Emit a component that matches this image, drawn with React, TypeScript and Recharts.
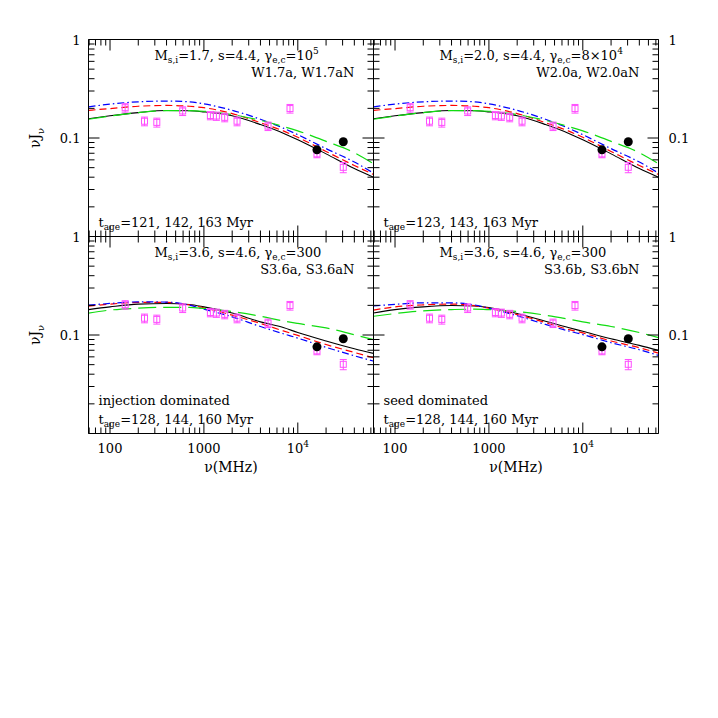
import { ComposedChart, Line, Scatter, XAxis, YAxis, ErrorBar } from "recharts";

// model grid (MHz)
const NU = [59, 100, 200, 400, 700, 1000, 2000, 4000, 7000, 10000, 20000, 40000, 64000];

// W1.7a / W2.0a (top panels look the same)
const W_SOLID = [0.157, 0.168, 0.181, 0.19, 0.189, 0.184, 0.168, 0.137, 0.112, 0.096, 0.069, 0.049, 0.04];
const W_DASH = [0.191, 0.199, 0.21, 0.214, 0.21, 0.203, 0.177, 0.143, 0.118, 0.1016, 0.073, 0.0526, 0.0426];
const W_DOTDASH = [0.207, 0.221, 0.233, 0.237, 0.233, 0.222, 0.191, 0.155, 0.126, 0.108, 0.078, 0.057, 0.044];
const W_LONGDASH = [0.155, 0.167, 0.181, 0.19, 0.19, 0.187, 0.173, 0.151, 0.131, 0.118, 0.0925, 0.0709, 0.0547];

// S3.6a (injection dominated)
const SA_SOLID = [0.181, 0.193, 0.206, 0.209, 0.204, 0.193, 0.167, 0.136, 0.119, 0.106, 0.087, 0.0725, 0.065];
const SA_DASH = [0.196, 0.206, 0.214, 0.214, 0.202, 0.189, 0.159, 0.131, 0.11, 0.099, 0.08, 0.0665, 0.0587];
const SA_DOTDASH = [0.201, 0.209, 0.217, 0.216, 0.201, 0.183, 0.153, 0.122, 0.103, 0.093, 0.075, 0.0615, 0.0543];
const SA_LONGDASH = [0.167, 0.179, 0.187, 0.191, 0.191, 0.186, 0.173, 0.155, 0.139, 0.131, 0.118, 0.1007, 0.0896];

// S3.6b (seed dominated)
const SB_SOLID = [0.167, 0.181, 0.193, 0.199, 0.197, 0.19, 0.165, 0.138, 0.119, 0.109, 0.0917, 0.0785, 0.0698];
const SB_DASH = [0.179, 0.193, 0.202, 0.206, 0.199, 0.187, 0.161, 0.134, 0.114, 0.105, 0.087, 0.0743, 0.0655];
const SB_DOTDASH = [0.197, 0.205, 0.212, 0.212, 0.202, 0.187, 0.157, 0.128, 0.11, 0.101, 0.0835, 0.0709, 0.0621];
const SB_LONGDASH = [0.155, 0.165, 0.176, 0.181, 0.183, 0.181, 0.173, 0.159, 0.145, 0.136, 0.122, 0.106, 0.094];

// observed halo spectrum
const OBS_NU = [145, 233, 315, 594, 1172, 1358, 1665, 2254, 4820, 8260, 16000, 30500];
const OBS_J = [0.203, 0.148, 0.144, 0.188, 0.169, 0.167, 0.162, 0.148, 0.132, 0.199, 0.069, 0.0504];
const OBS_ERR = [0.02, 0.015, 0.015, 0.019, 0.016, 0.016, 0.016, 0.015, 0.013, 0.02, 0.006, 0.006];

// SZ-corrected points
const SZ_NU = [16000, 30500];
const SZ_J = [0.0758, 0.0915];

const X_TICKS = [60, 70, 80, 90, 100, 200, 300, 400, 500, 600, 700, 800, 900, 1000, 2000, 3000, 4000, 5000, 6000, 7000, 8000, 9000, 10000, 20000, 30000, 40000, 50000, 60000];
const Y_TICKS = [0.01, 0.02, 0.03, 0.04, 0.05, 0.06, 0.07, 0.08, 0.09, 0.1, 0.2, 0.3, 0.4, 0.5, 0.6, 0.7, 0.8, 0.9, 1];

const FONT = "'DejaVu Serif', serif";
const MAG = "#ff4cff";
const TICK = "#000000";
const PW = 285;
const PH = 197;
const SIZE = 718;
const AX = 1; // thickness reserved for each axis

const STYLES = [
  { key: "solid", stroke: "#000000", dash: undefined, w: 1.1 },
  { key: "dash", stroke: "#ff0000", dash: "7 4", w: 1.2 },
  { key: "dotdash", stroke: "#0000ff", dash: "7 3 1.5 3", w: 1.2 },
  { key: "longdash", stroke: "#11dd11", dash: "18 7", w: 1.2 },
];

const isDecade = (v: number) => {
  const l = Math.log10(v);
  return Math.abs(l - Math.round(l)) < 1e-6;
};

function XTick(props: any) {
  const x = Number(props.x);
  const y = Number(props.y);
  const { payload, side, labels } = props;
  const v = payload.value;
  const major = isDecade(v);
  const len = major ? 11 : 6;
  const dir = side === "bottom" ? -1 : 1;
  return (
    <g>
      <line x1={x} x2={x} y1={y} y2={y + dir * len} stroke={TICK} strokeWidth={1} />
      {labels && major && (
        <text x={x} y={y + 19} textAnchor="middle" fontFamily={FONT} fontSize={13} fill="#000">
          {v >= 10000 ? (
            <>
              10<tspan fontSize={9} dy={-6}>{Math.round(Math.log10(v))}</tspan>
            </>
          ) : (
            String(v)
          )}
        </text>
      )}
    </g>
  );
}

function YTick(props: any) {
  const x = Number(props.x);
  const y = Number(props.y);
  const { payload, side, labels } = props;
  const v = payload.value;
  const major = isDecade(v);
  const len = major ? 11 : 6;
  const dir = side === "left" ? 1 : -1;
  const show = labels && (Math.abs(v - 1) < 1e-9 || Math.abs(v - 0.1) < 1e-9);
  return (
    <g>
      <line x1={x} x2={x + dir * len} y1={y} y2={y} stroke={TICK} strokeWidth={1} />
      {show && (
        <text
          x={side === "left" ? x - 8 : x + 10}
          y={y + 5}
          textAnchor={side === "left" ? "end" : "start"}
          fontFamily={FONT}
          fontSize={13}
          fill="#000"
        >
          {v === 1 ? "1" : "0.1"}
        </text>
      )}
    </g>
  );
}

const Square = (p: any) => (
  <rect x={p.cx - 3} y={p.cy - 3} width={6} height={6} fill="none" stroke={MAG} strokeWidth={1} />
);
const Dot = (p: any) => <circle cx={p.cx} cy={p.cy} r={4.5} fill="#000" />;

function Panel({ left, top, curves, yside, xlabels }: any) {
  const rows = NU.map((nu, i) => ({
    nu,
    solid: curves[0][i],
    dash: curves[1][i],
    dotdash: curves[2][i],
    longdash: curves[3][i],
  }));
  const obs = OBS_NU.map((nu, i) => ({ nu, j: OBS_J[i], err: OBS_ERR[i] }));
  const sz = SZ_NU.map((nu, i) => ({ nu, j: SZ_J[i] }));
  return (
    <div style={{ position: "absolute", left: 0, top: 0 }}>
      <ComposedChart
        width={SIZE}
        height={SIZE}
        data={rows}
        margin={{
          left: left - AX,
          top: top - AX,
          right: SIZE - left - PW - AX,
          bottom: SIZE - top - PH - AX,
        }}
      >
        <XAxis
          dataKey="nu"
          type="number"
          scale="log"
          domain={[59, 64000]}
          allowDataOverflow
          ticks={X_TICKS}
          interval={0}
          height={AX}
          tickSize={0}
          tickMargin={0}
          axisLine={{ stroke: "#000" }}
          tickLine={false}
          tick={(p: any) => <XTick {...p} side="bottom" labels={xlabels} />}
        />
        <XAxis
          xAxisId="t"
          dataKey="nu"
          type="number"
          scale="log"
          orientation="top"
          domain={[59, 64000]}
          allowDataOverflow
          ticks={X_TICKS}
          interval={0}
          height={AX}
          tickSize={0}
          tickMargin={0}
          axisLine={{ stroke: "#000" }}
          tickLine={false}
          tick={(p: any) => <XTick {...p} side="top" labels={false} />}
        />
        <YAxis
          type="number"
          scale="log"
          domain={[0.01, 1]}
          allowDataOverflow
          ticks={Y_TICKS}
          interval={0}
          width={AX}
          tickSize={0}
          tickMargin={0}
          axisLine={{ stroke: "#000" }}
          tickLine={false}
          tick={(p: any) => <YTick {...p} side="left" labels={yside === "left"} />}
        />
        <YAxis
          yAxisId="r"
          orientation="right"
          type="number"
          scale="log"
          domain={[0.01, 1]}
          allowDataOverflow
          ticks={Y_TICKS}
          interval={0}
          width={AX}
          tickSize={0}
          tickMargin={0}
          axisLine={{ stroke: "#000" }}
          tickLine={false}
          tick={(p: any) => <YTick {...p} side="right" labels={yside === "right"} />}
        />
        {STYLES.map((s) => (
          <Line
            key={s.key}
            type="monotone"
            dataKey={s.key}
            stroke={s.stroke}
            strokeWidth={s.w}
            strokeDasharray={s.dash}
            dot={false}
            isAnimationActive={false}
          />
        ))}
        <Scatter data={obs} dataKey="j" shape={Square} isAnimationActive={false}>
          <ErrorBar dataKey="err" direction="y" width={3.5} stroke={MAG} strokeWidth={1} />
        </Scatter>
        <Scatter data={sz} dataKey="j" shape={Dot} isAnimationActive={false} />
        {/* invisible helper so the top / right axes are bound to a series */}
        <Line xAxisId="t" yAxisId="r" dataKey="solid" stroke="none" dot={false} isAnimationActive={false} />
      </ComposedChart>
    </div>
  );
}

const sub = (s: string) => (
  <tspan fontSize={9} dy={3.5}>
    {s}
  </tspan>
);

function Notes({ left, top, m, s, g, gsup, run, tage, extra }: any) {
  return (
    <g fontFamily={FONT} fontSize={13} fill="#000">
      <text x={left + 66} y={top + 20}>
        M{sub("s,i")}
        <tspan dy={-3.5}>{`=${m}, s=${s}, γ`}</tspan>
        {sub("e,c")}
        <tspan dy={-3.5}>{`=${g}`}</tspan>
        {gsup && (
          <tspan fontSize={9} dy={-5.5}>
            {gsup}
          </tspan>
        )}
      </text>
      <text x={left + 266} y={top + 37.5} textAnchor="end">
        {run}
      </text>
      {extra && (
        <text x={left + 10} y={top + 168}>
          {extra}
        </text>
      )}
      <text x={left + 10} y={top + 187}>
        t{sub("age")}
        <tspan dy={-3.5}>{`=${tage}`}</tspan>
      </text>
    </g>
  );
}

export default function App() {
  const L1 = 88.5;
  const L2 = L1 + PW;
  const T1 = 39.5;
  const T2 = T1 + PH;
  return (
    <div style={{ position: "absolute", left: 0, top: 0, width: SIZE, height: SIZE, background: "#fff" }}>
      <Panel left={L1} top={T1} curves={[W_SOLID, W_DASH, W_DOTDASH, W_LONGDASH]} yside="left" xlabels={false} />
      <Panel left={L2} top={T1} curves={[W_SOLID, W_DASH, W_DOTDASH, W_LONGDASH]} yside="right" xlabels={false} />
      <Panel left={L1} top={T2} curves={[SA_SOLID, SA_DASH, SA_DOTDASH, SA_LONGDASH]} yside="left" xlabels />
      <Panel left={L2} top={T2} curves={[SB_SOLID, SB_DASH, SB_DOTDASH, SB_LONGDASH]} yside="right" xlabels />
      <svg width={SIZE} height={SIZE} style={{ position: "absolute", left: 0, top: 0 }}>
        <Notes left={L1} top={T1} m="1.7" s="4.4" g="10" gsup="5" run="W1.7a, W1.7aN" tage="121, 142, 163 Myr" />
        <Notes left={L2} top={T1} m="2.0" s="4.4" g="8×10" gsup="4" run="W2.0a, W2.0aN" tage="123, 143, 163 Myr" />
        <Notes left={L1} top={T2} m="3.6" s="4.6" g="300" run="S3.6a, S3.6aN" tage="128, 144, 160 Myr" extra="injection dominated" />
        <Notes left={L2} top={T2} m="3.6" s="4.6" g="300" run="S3.6b, S3.6bN" tage="128, 144, 160 Myr" extra="seed dominated" />
        <g fontFamily={FONT} fontSize={14} fill="#000">
          {[T1, T2].map((t) => (
            <text key={t} transform={`translate(40, ${t + PH / 2}) rotate(-90)`} textAnchor="middle">
              νJ<tspan fontSize={10} dy={3.5}>ν</tspan>
            </text>
          ))}
          {[L1, L2].map((l) => (
            <text key={l} x={l + PW / 2} y={T2 + PH + 38} textAnchor="middle">
              ν(MHz)
            </text>
          ))}
        </g>
      </svg>
    </div>
  );
}
